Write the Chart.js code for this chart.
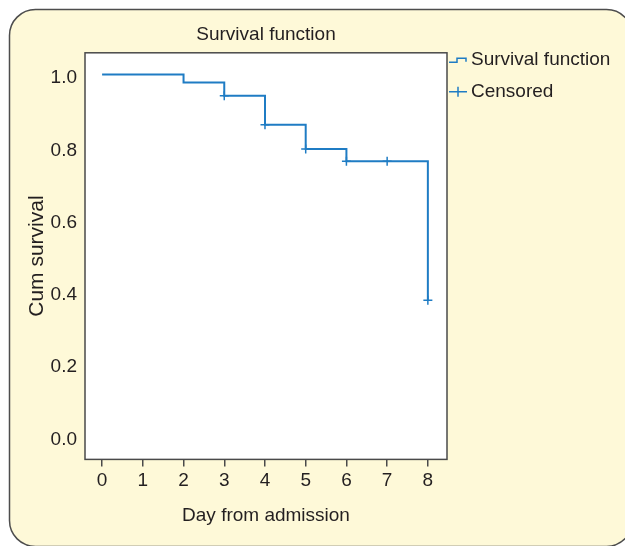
<!DOCTYPE html>
<html>
<head>
<meta charset="utf-8">
<script src="https://cdn.jsdelivr.net/npm/chart.js@4/dist/chart.umd.min.js"></script>
<style>
  html, body { margin: 0; padding: 0; background: #fff; }
</style>
</head>
<body>
<canvas id="chart" width="625" height="546"></canvas>
<script>
// Kaplan-Meier values
const DAYS = [0, 2, 3, 4, 5, 6, 8];
const SURVIVAL = [1.01, 0.988, 0.951, 0.871, 0.804, 0.77, 0.385];
const CENSORED_DAYS = [3, 4, 5, 6, 7, 8];
const CENSORED_SURVIVAL = [0.951, 0.871, 0.804, 0.77, 0.77, 0.385];
const X_TICKS = [0, 1, 2, 3, 4, 5, 6, 7, 8];
const Y_TICKS = [0, 0.2, 0.4, 0.6, 0.8, 1.0];
const LEGEND_LABELS = ['Survival function', 'Censored'];

const BLUE = '#1f7cc4';
const TEXT = '#231f20';
const PANEL = '#fef9d8';

Chart.defaults.font.family = "'Liberation Sans', Arial, sans-serif";
Chart.defaults.color = TEXT;

// cream rounded panel, white plot box, frame and the legend
const panelPlugin = {
  id: 'panel',
  beforeDraw(chart) {
    const { ctx, chartArea: a } = chart;
    ctx.save();
    ctx.fillStyle = '#fff';
    ctx.fillRect(0, 0, chart.width, chart.height);
    ctx.beginPath();
    ctx.roundRect(9.5, 9.5, 623, 537, 26);
    ctx.fillStyle = PANEL;
    ctx.fill();
    ctx.lineWidth = 1.5;
    ctx.strokeStyle = '#4d4d4d';
    ctx.stroke();
    ctx.fillStyle = '#fff';
    ctx.fillRect(a.left, a.top, a.width, a.height);
    ctx.restore();
  },
  beforeDatasetsDraw(chart) {
    const { ctx, chartArea: a } = chart;
    ctx.save();
    ctx.lineWidth = 1.5;
    ctx.strokeStyle = '#4a4a4a';
    ctx.strokeRect(a.left, a.top, a.width, a.height);
    ctx.restore();
  },
  afterDraw(chart) {
    const { ctx, chartArea: a } = chart;
    const x0 = a.right;
    const y1 = a.top + 7;
    const y2 = a.top + 39;
    ctx.save();
    ctx.strokeStyle = BLUE;
    ctx.lineWidth = 1.5;
    // step icon
    ctx.beginPath();
    ctx.moveTo(x0 + 2, y1 + 2.5);
    ctx.lineTo(x0 + 10, y1 + 2.5);
    ctx.lineTo(x0 + 10, y1 - 1.5);
    ctx.lineTo(x0 + 19, y1 - 1.5);
    ctx.lineTo(x0 + 19, y1 + 2);
    ctx.stroke();
    // cross icon
    ctx.beginPath();
    ctx.moveTo(x0 + 2, y2);
    ctx.lineTo(x0 + 20, y2);
    ctx.moveTo(x0 + 11, y2 - 5);
    ctx.lineTo(x0 + 11, y2 + 5);
    ctx.stroke();
    ctx.fillStyle = TEXT;
    ctx.font = "19px 'Liberation Sans', Arial, sans-serif";
    ctx.textBaseline = 'middle';
    ctx.fillText(LEGEND_LABELS[0], x0 + 24, y1);
    ctx.fillText(LEGEND_LABELS[1], x0 + 24, y2);
    ctx.restore();
  }
};

new Chart(document.getElementById('chart'), {
  type: 'line',
  data: {
    datasets: [
      {
        label: LEGEND_LABELS[0],
        data: DAYS.map((d, i) => ({ x: d, y: SURVIVAL[i] })),
        stepped: 'before',
        borderColor: BLUE,
        borderWidth: 2,
        pointRadius: 0,
        fill: false
      },
      {
        label: LEGEND_LABELS[1],
        data: CENSORED_DAYS.map((d, i) => ({ x: d, y: CENSORED_SURVIVAL[i] })),
        showLine: false,
        pointStyle: 'cross',
        pointRadius: 4.5,
        borderColor: BLUE,
        borderWidth: 1.5
      }
    ]
  },
  options: {
    responsive: false,
    animation: false,
    layout: { padding: { left: 14, right: 178, top: 0, bottom: 15 } },
    plugins: {
      legend: { display: false },
      tooltip: { enabled: false },
      title: {
        display: true,
        text: 'Survival function',
        fullSize: false,
        color: TEXT,
        font: { size: 19, weight: 'normal' },
        padding: { top: 23, bottom: 7 }
      }
    },
    scales: {
      x: {
        type: 'linear',
        min: -0.42,
        max: 8.47,
        afterBuildTicks: s => { s.ticks = X_TICKS.map(v => ({ value: v })); },
        grid: { drawOnChartArea: false, drawTicks: true, tickLength: 7, color: '#4a4a4a', lineWidth: 1.5 },
        border: { display: false },
        ticks: { font: { size: 19 }, padding: 3, maxRotation: 0, autoSkip: false },
        title: { display: true, text: 'Day from admission', font: { size: 19 }, padding: { top: 9, bottom: 4 } }
      },
      y: {
        min: -0.055,
        max: 1.07,
        afterBuildTicks: s => { s.ticks = Y_TICKS.map(v => ({ value: v })); },
        afterFit: s => { s.width = 71; },
        grid: { display: false, drawTicks: false, tickLength: 0 },
        border: { display: false },
        ticks: { font: { size: 19 }, padding: 8, callback: v => v.toFixed(1) },
        title: { display: true, text: 'Cum survival', font: { size: 21 }, padding: { top: 11, bottom: 0 } }
      }
    }
  },
  plugins: [panelPlugin]
});
</script>
</body>
</html>
